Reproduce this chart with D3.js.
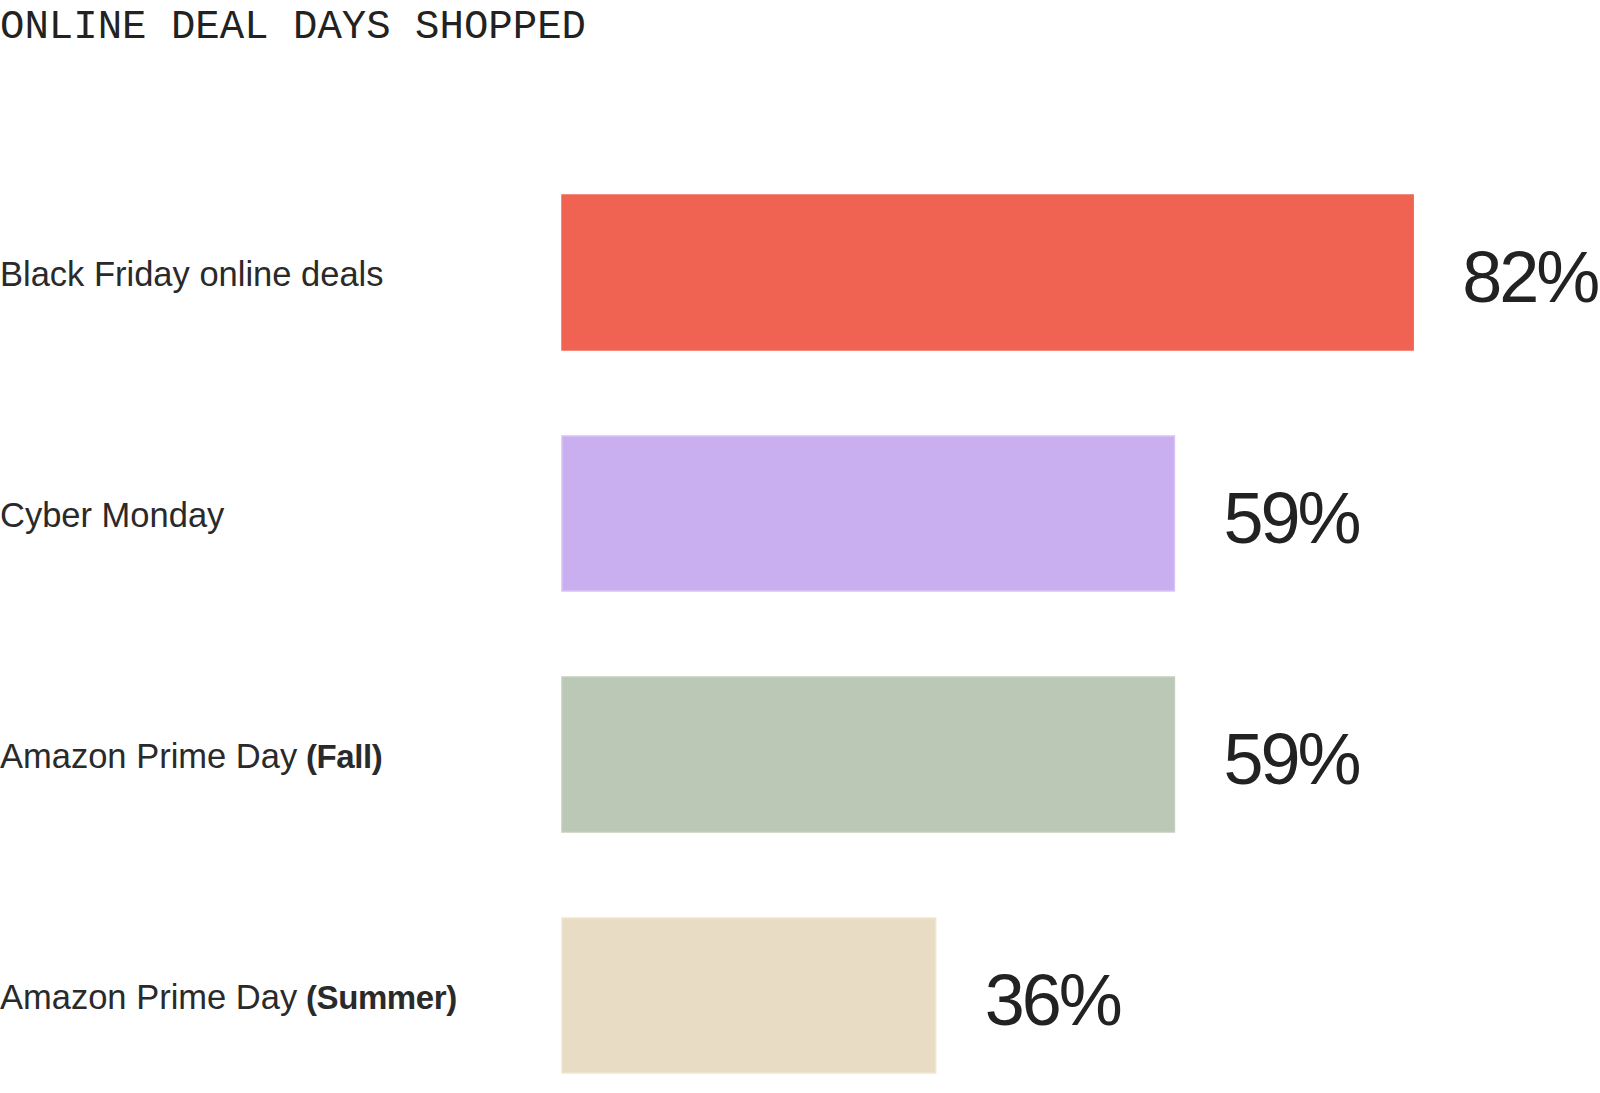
<!DOCTYPE html>
<html>
<head>
<meta charset="utf-8">
<script src="https://cdn.jsdelivr.net/npm/d3@7"></script>
<style>
  html, body { margin: 0; padding: 0; background: #ffffff; }
  svg { display: block; }
</style>
</head>
<body>
<svg id="chart" width="1600" height="1093"></svg>
<script>
const title = "ONLINE DEAL DAYS SHOPPED";
const categories = ["Black Friday online deals", "Cyber Monday", "Amazon Prime Day", "Amazon Prime Day"];
const categorySuffixes = ["", "", "(Fall)", "(Summer)"];
const values = [82, 59, 59, 36];
const valueLabels = ["82%", "59%", "59%", "36%"];
const colors = ["#F06352", "#C9AFEF", "#BAC8B5", "#E8DCC4"];
const strokes = ["#F06352", "#D6C2F6", "#C2CEBD", "#F1E5CE"];

const svg = d3.select("#chart");
const ids = d3.range(values.length);

const x = d3.scaleLinear().domain([0, 100]).range([562, 1600]);
const y = d3.scaleBand().domain(ids).range([152, 1116]).paddingInner(0.357).paddingOuter(0.1785);

svg.append("text")
  .attr("x", 0).attr("y", 38)
  .attr("font-family", "'Liberation Mono', 'DejaVu Sans Mono', monospace")
  .attr("font-size", 40.7)
  .attr("fill", "#222")
  .text(title);

svg.selectAll("rect.bar").data(ids).join("rect")
  .attr("class", "bar")
  .attr("x", x(0))
  .attr("y", i => y(i))
  .attr("width", i => x(values[i]) - x(0))
  .attr("height", y.bandwidth())
  .attr("fill", i => colors[i])
  .attr("stroke", i => strokes[i])
  .attr("stroke-width", 1.5);

const lab = svg.selectAll("text.cat").data(ids).join("text")
  .attr("class", "cat")
  .attr("x", 0)
  .attr("y", i => y(i) + y.bandwidth() / 2 + 13)
  .attr("font-family", "'Liberation Sans', Arial, sans-serif")
  .attr("font-size", 34.5)
  .attr("fill", "#2a2a2a");
lab.append("tspan").text(i => categories[i]);
lab.append("tspan")
  .attr("font-weight", "bold")
  .attr("font-size", 33)
  .attr("letter-spacing", -0.4)
  .text(i => categorySuffixes[i] ? " " + categorySuffixes[i] : "");

svg.selectAll("text.val").data(ids).join("text")
  .attr("class", "val")
  .attr("x", i => x(values[i]) + 49)
  .attr("y", i => y(i) + y.bandwidth() / 2 + 29)
  .attr("font-family", "'Liberation Sans', Arial, sans-serif")
  .attr("font-size", 72)
  .attr("letter-spacing", -3)
  .attr("fill", "#222")
  .text(i => valueLabels[i]);
</script>
</body>
</html>
